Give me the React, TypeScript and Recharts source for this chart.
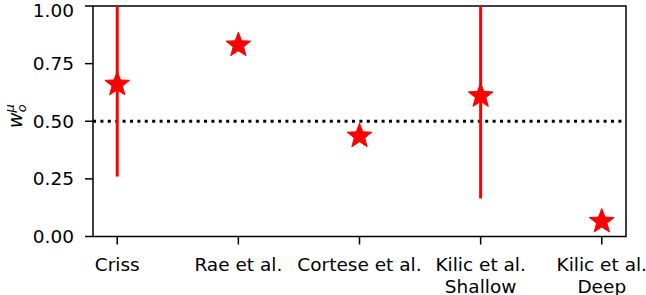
import {
  ScatterChart,
  Scatter,
  XAxis,
  YAxis,
  ErrorBar,
  ReferenceLine,
  ReferenceArea,
} from "recharts";

const studies = ["Criss", "Rae et al.", "Cortese et al.", "Kilic et al.\nShallow", "Kilic et al.\nDeep"];
const medians = [0.66, 0.83, 0.435, 0.61, 0.065];
const lowerBound = [0.26, null, null, 0.165, null];
const upperBound = [1.0, null, null, 1.0, null];
const yTicks = [0, 0.25, 0.5, 0.75, 1];

const FONT = "DejaVu Sans, sans-serif";
const RED = "#ff0000";

const data = studies.map((name, i) => ({
  x: i,
  y: medians[i],
  err:
    lowerBound[i] == null
      ? null
      : [medians[i] - (lowerBound[i] as number), (upperBound[i] as number) - medians[i]],
}));

// matplotlib-style '*' marker
const Star = (props: any) => {
  const { cx, cy } = props;
  const R = 13;
  const r = R * 0.42;
  const pts: string[] = [];
  for (let k = 0; k < 10; k++) {
    const rad = k % 2 === 0 ? R : r;
    const a = -Math.PI / 2 + (k * Math.PI) / 5;
    pts.push(`${cx + rad * Math.cos(a)},${cy + rad * Math.sin(a)}`);
  }
  return <polygon points={pts.join(" ")} fill={RED} stroke={RED} strokeWidth={1} strokeLinejoin="miter" />;
};

const StudyTick = (props: any) => {
  const { x, y, payload } = props;
  const lines = studies[payload.value].split("\n");
  return (
    <text x={x} y={y} textAnchor="middle" fontFamily={FONT} fontSize={18.5} fill="#000">
      {lines.map((l, i) => (
        <tspan key={i} x={x} dy={i === 0 ? 24.5 : 21.5}>
          {l}
        </tspan>
      ))}
    </text>
  );
};

const YLabel = () => (
  <text
    x={22}
    y={116}
    transform="rotate(-90 22 116)"
    textAnchor="middle"
    fontFamily={FONT}
    fontSize={19}
    fill="#000"
  >
    <tspan fontStyle="italic">w</tspan>
    <tspan fontStyle="italic" fontSize={13} dy={4}>o</tspan>
    <tspan fontStyle="italic" fontSize={13} dx={-8} dy={-12}>μ</tspan>
  </text>
);

export default function App() {
  return (
    <div style={{ position: "absolute", left: 0, top: 0, background: "#fff" }}>
      <ScatterChart
        width={646}
        height={295}
        margin={{ top: 6, right: 20, bottom: 0, left: 0 }}
      >
        <XAxis
          type="number"
          dataKey="x"
          domain={[-0.2, 4.2]}
          ticks={[0, 1, 2, 3, 4]}
          interval={0}
          height={58.5}
          axisLine={false}
          tickSize={8}
          tickLine={{ stroke: "#000", strokeWidth: 1.5 }}
          tick={<StudyTick />}
        />
        <YAxis
          type="number"
          dataKey="y"
          domain={[0, 1]}
          ticks={yTicks}
          width={93}
          axisLine={false}
          tickSize={8}
          tickMargin={11}
          tickLine={{ stroke: "#000", strokeWidth: 1.5 }}
          tickFormatter={(v: number) => v.toFixed(2)}
          tick={{ fill: "#000", fontFamily: FONT, fontSize: 18.5 }}
          label={<YLabel />}
        />
        <ReferenceLine y={0.5} stroke="#000" strokeWidth={3} strokeDasharray="3 4.4" />
        <Scatter data={data} shape={<Star />} isAnimationActive={false}>
          <ErrorBar dataKey="err" direction="y" width={0} stroke={RED} strokeWidth={3} />
        </Scatter>
        <ReferenceArea x1={-0.2} x2={4.2} y1={0} y2={1} fill="none" stroke="#000" strokeWidth={1.5} />
      </ScatterChart>
    </div>
  );
}
